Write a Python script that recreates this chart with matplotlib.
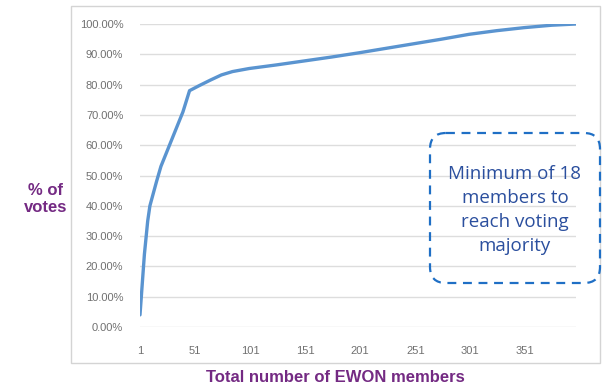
import matplotlib.pyplot as plt
from matplotlib.patches import FancyBboxPatch, Rectangle
from matplotlib.ticker import PercentFormatter

# cumulative share of votes vs number of members
members = [1, 3, 5, 8, 10, 13, 16, 20, 25, 30, 35, 40, 46, 55, 65, 75, 85,
           100, 125, 150, 175, 200, 225, 250, 275, 300, 325, 350, 375, 397]
share = [0.04, 0.14, 0.24, 0.35, 0.40, 0.44, 0.48, 0.53, 0.575, 0.62, 0.665,
         0.71, 0.78, 0.797, 0.815, 0.832, 0.843, 0.853, 0.865, 0.878, 0.891,
         0.905, 0.92, 0.935, 0.95, 0.966, 0.978, 0.988, 0.996, 1.0]
x_ticks = [1, 51, 101, 151, 201, 251, 301, 351]
y_ticks = [0.0, 0.1, 0.2, 0.3, 0.4, 0.5, 0.6, 0.7, 0.8, 0.9, 1.0]

purple = "#742A83"
W, H = 608, 388

fig = plt.figure(figsize=(W / 100, H / 100), dpi=100)
plt.rcParams["font.family"] = ["Liberation Sans", "DejaVu Sans"]

ax = fig.add_axes([140 / W, 1 - 327 / H, 436 / W, 303 / H])
ax.plot(members, share, color="#5A94D0", linewidth=2.4, solid_capstyle="round")
ax.set_xlim(1, 397)
ax.set_ylim(0, 1)
ax.set_xticks(x_ticks)
ax.set_yticks(y_ticks)
ax.yaxis.set_major_formatter(PercentFormatter(1.0, decimals=2))
ax.tick_params(axis="both", length=0, labelsize=8, labelcolor="#707070")
ax.tick_params(axis="x", pad=14)
ax.tick_params(axis="y", pad=12)
ax.grid(axis="y", color="#DDDDDD", linewidth=1)
for s in ax.spines.values():
    s.set_visible(False)

# overlay in pixel units for the frame, box and outer labels
ov = fig.add_axes([0, 0, 1, 1])
ov.set_xlim(0, W)
ov.set_ylim(H, 0)
ov.axis("off")
ov.patch.set_visible(False)

ov.add_patch(Rectangle((71, 6), 529, 357, fill=False, edgecolor="#D4D4D4", linewidth=1))

ov.add_patch(FancyBboxPatch((430, 133), 170, 150,
                            boxstyle="round,pad=0,rounding_size=16",
                            fill=False, edgecolor="#1F6FC5", linewidth=1.6,
                            linestyle=(0, (4, 3))))
ov.text(515, 210, "Minimum of 18\nmembers to\nreach voting\nmajority",
        ha="center", va="center", fontsize=13.5, color="#2B4F9E",
        linespacing=1.45, family=["Open Sans", "DejaVu Sans"])

ov.text(46, 199, "% of\nvotes", ha="center", va="center", fontsize=12,
        fontweight="bold", color=purple, linespacing=1.1)
ov.text(335, 378, "Total number of EWON members", ha="center", va="center",
        fontsize=12, fontweight="bold", color=purple)

fig.savefig("out.png", dpi=100, facecolor="white")
